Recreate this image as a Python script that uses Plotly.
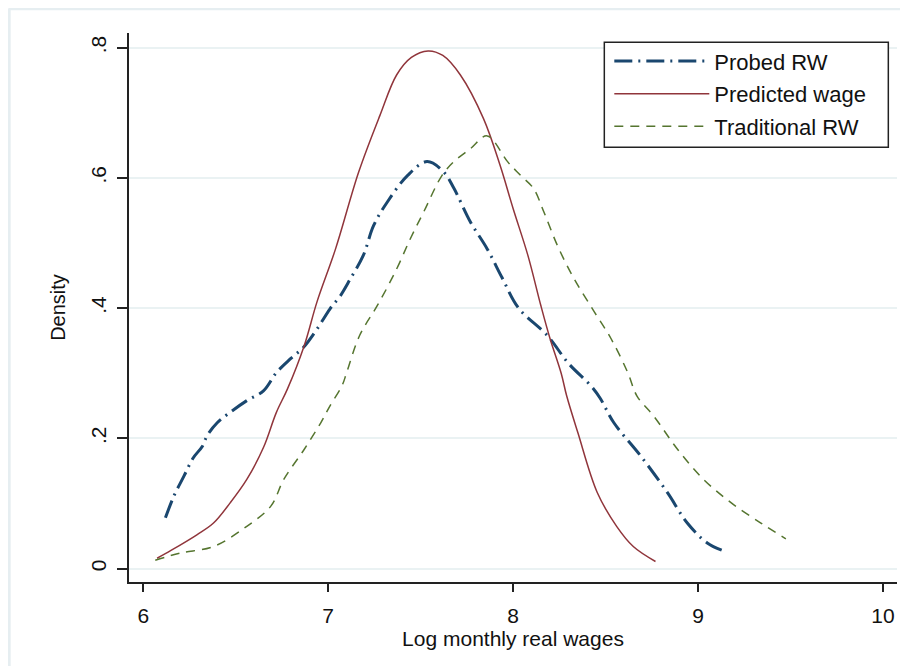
import plotly.graph_objects as go

# Predicted wage (solid maroon)
pred_x = [6.075, 6.15, 6.29, 6.38, 6.47, 6.56, 6.65, 6.72, 6.78, 6.87, 6.94, 7.04, 7.165, 7.28, 7.37,
          7.45, 7.54, 7.62, 7.715, 7.84, 7.93, 8.00, 8.08, 8.15, 8.20, 8.26, 8.29, 8.35, 8.455, 8.56, 8.65, 8.77]
pred_y = [0.016, 0.028, 0.052, 0.070, 0.101, 0.137, 0.186, 0.240, 0.276, 0.342, 0.41, 0.491, 0.609, 0.696, 0.758,
          0.785, 0.795, 0.788, 0.758, 0.691, 0.619, 0.553, 0.481, 0.404, 0.353, 0.30, 0.265, 0.209, 0.117, 0.065, 0.034, 0.011]

# Probed RW (navy long-dash-dot)
prob_x = [6.12, 6.165, 6.22, 6.27, 6.32, 6.345, 6.40, 6.47, 6.56, 6.65, 6.72, 6.795, 6.867, 6.94, 7.01, 7.066,
          7.12, 7.19, 7.246, 7.32, 7.43, 7.535, 7.625, 7.68, 7.77, 7.86, 7.94, 8.03, 8.185, 8.30, 8.42, 8.47,
          8.545, 8.69, 8.834, 8.942, 9.05, 9.14]
prob_y = [0.078, 0.111, 0.142, 0.170, 0.188, 0.204, 0.224, 0.240, 0.258, 0.273, 0.301, 0.322, 0.340, 0.368, 0.399, 0.419,
          0.445, 0.481, 0.527, 0.563, 0.604, 0.625, 0.609, 0.584, 0.532, 0.491, 0.447, 0.40, 0.358, 0.315, 0.281, 0.262,
          0.224, 0.173, 0.117, 0.070, 0.0395, 0.027]

# Traditional RW (green dashed)
trad_x = [6.065, 6.2, 6.38, 6.56, 6.69, 6.76, 6.87, 6.96, 7.01, 7.075, 7.10, 7.17, 7.27, 7.37, 7.445, 7.517,
          7.616, 7.68, 7.77, 7.86, 7.97, 8.04, 8.11, 8.166, 8.24, 8.33, 8.44, 8.53, 8.62, 8.67, 8.76, 8.89,
          9.03, 9.18, 9.34, 9.475]
trad_y = [0.013, 0.024, 0.034, 0.065, 0.096, 0.137, 0.183, 0.224, 0.25, 0.281, 0.301, 0.358, 0.406, 0.46, 0.507, 0.548,
          0.604, 0.625, 0.645, 0.6645, 0.625, 0.604, 0.584, 0.548, 0.496, 0.445, 0.394, 0.353, 0.301, 0.265, 0.2345, 0.183,
          0.137, 0.101, 0.070, 0.0457]

x_ticks = [6, 7, 8, 9, 10]
y_ticks = [0, 0.2, 0.4, 0.6, 0.8]
y_tick_labels = ["0", ".2", ".4", ".6", ".8"]

FONT = "Liberation Sans, Arial, sans-serif"

fig = go.Figure()
fig.add_trace(go.Scatter(x=prob_x, y=prob_y, mode="lines", name="Probed RW", legendgroup="a",
                         line=dict(color="#1a476f", width=3, dash="18px,6px,2px,6px", shape="spline")))
fig.add_trace(go.Scatter(x=pred_x, y=pred_y, mode="lines", name="Predicted wage", legendgroup="b",
                         line=dict(color="#90353b", width=1.5, shape="spline")))
fig.add_trace(go.Scatter(x=trad_x, y=trad_y, mode="lines", name="Traditional RW", legendgroup="c",
                         line=dict(color="#55752f", width=1.5, dash="9px,7px", shape="spline")))

fig.update_layout(
    width=900, height=658,
    margin=dict(l=121, r=11, t=25, b=84),
    paper_bgcolor="white", plot_bgcolor="white",
    font=dict(family=FONT, size=21, color="#111"),
    showlegend=True,
    legend=dict(x=0.6254, y=0.9867, xanchor="left", yanchor="top",
                borderwidth=0, bgcolor="rgba(0,0,0,0)",
                font=dict(size=22), traceorder="grouped", tracegroupgap=1, itemwidth=95),
    xaxis=dict(range=[5.923, 10.076], tickvals=x_ticks, showgrid=False, zeroline=False,
               showline=True, linecolor="#222", linewidth=1.5, automargin=False,
               ticks="outside", ticklen=8, tickwidth=1.5, tickcolor="#222", ticklabelstandoff=6,
               title=dict(text="Log monthly real wages", font=dict(size=21), standoff=0)),
    yaxis=dict(range=[-0.0205, 0.8225], tickvals=y_ticks, ticktext=y_tick_labels, tickangle=-90,
               showgrid=True, gridcolor="#eaf2f3", gridwidth=1.5, zeroline=False,
               showline=True, linecolor="#222", linewidth=1.5, automargin=False,
               ticks="outside", ticklen=10, tickwidth=1.5, tickcolor="#222", ticklabelstandoff=3,
               title=dict(text="Density", font=dict(size=20), standoff=16)),
    shapes=[
        dict(type="line", xref="paper", yref="paper", x0=-0.157, x1=1.02, y0=1.044, y1=1.044,
             line=dict(color="#e6eef1", width=3)),
        dict(type="line", xref="paper", yref="paper", x0=-0.156, x1=-0.156, y0=-0.2, y1=1.044,
             line=dict(color="#e6eef1", width=3)),
        dict(type="rect", xref="paper", yref="paper", x0=0.6189, x1=0.9887, y0=0.792, y1=0.9832,
             line=dict(color="#222", width=1.5), fillcolor="white", layer="above"),
    ],
)
fig.write_html("out.html")
